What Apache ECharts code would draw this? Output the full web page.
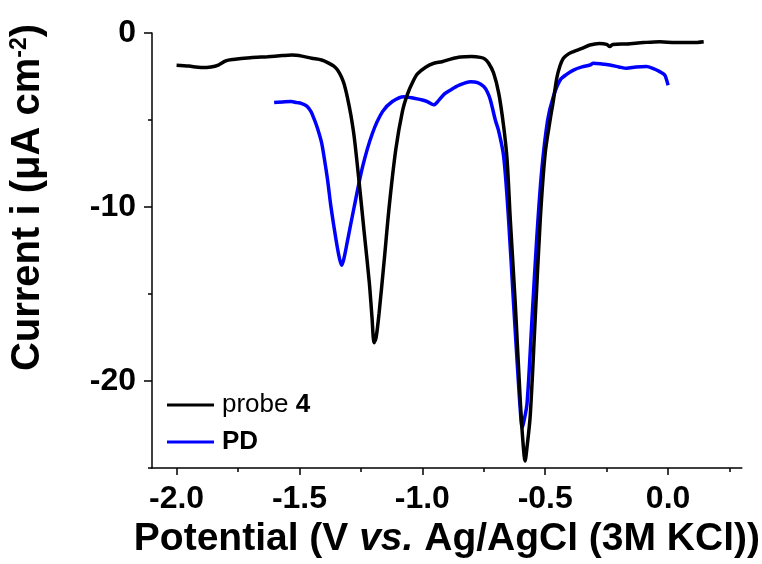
<!DOCTYPE html>
<html>
<head>
<meta charset="utf-8">
<script src="https://cdn.jsdelivr.net/npm/echarts@6/dist/echarts.min.js"></script>
<style>html,body{margin:0;padding:0;background:#fff;}#c{width:762px;height:564px;}</style>
</head>
<body>
<div id="c"></div>
<script>
// ---- data ----
const probe4 = [
  [-2.0, -1.85], [-1.95, -1.9], [-1.90, -1.98], [-1.86, -1.95], [-1.83, -1.84], [-1.80, -1.6],
  [-1.77, -1.52], [-1.70, -1.42], [-1.63, -1.36], [-1.57, -1.30], [-1.53, -1.27], [-1.49, -1.33],
  [-1.45, -1.45], [-1.41, -1.55], [-1.385, -1.70], [-1.36, -1.9], [-1.345, -2.12], [-1.33, -2.5],
  [-1.318, -2.95], [-1.305, -3.7], [-1.291, -4.7], [-1.277, -6.0], [-1.257, -8.6], [-1.237, -11.4],
  [-1.216, -14.3], [-1.205, -16.3], [-1.196, -17.8], [-1.188, -17.5], [-1.176, -16.1], [-1.156, -13.2],
  [-1.135, -10.0], [-1.108, -6.7], [-1.081, -4.5], [-1.06, -3.5], [-1.04, -2.85], [-1.02, -2.35],
  [-0.985, -1.95], [-0.953, -1.74], [-0.92, -1.65], [-0.885, -1.5], [-0.845, -1.38], [-0.80, -1.35],
  [-0.764, -1.40], [-0.745, -1.5], [-0.730, -1.74], [-0.710, -2.3], [-0.689, -3.47], [-0.669, -5.38],
  [-0.655, -7.3], [-0.642, -10.74], [-0.622, -15.5], [-0.601, -21.25], [-0.59, -23.6], [-0.582, -24.6],
  [-0.574, -23.8], [-0.561, -22.0], [-0.541, -16.5], [-0.520, -10.7], [-0.500, -6.9], [-0.480, -5.0],
  [-0.467, -3.9], [-0.453, -2.6], [-0.44, -1.9], [-0.426, -1.45], [-0.405, -1.2], [-0.385, -1.07],
  [-0.35, -0.88], [-0.318, -0.69], [-0.28, -0.6], [-0.25, -0.65], [-0.237, -0.78], [-0.225, -0.66],
  [-0.169, -0.63], [-0.10, -0.55], [-0.034, -0.5], [0.03, -0.55], [0.101, -0.55], [0.145, -0.5]
];
const pd = [
  [-1.603, -4.0], [-1.56, -3.95], [-1.534, -3.94], [-1.51, -4.0], [-1.493, -4.04], [-1.47, -4.2],
  [-1.453, -4.52], [-1.44, -4.95], [-1.426, -5.5], [-1.41, -6.3], [-1.399, -7.2], [-1.385, -8.5],
  [-1.372, -9.97], [-1.351, -11.9], [-1.338, -12.9], [-1.328, -13.35], [-1.318, -12.9], [-1.304, -11.9],
  [-1.277, -9.97], [-1.243, -7.68], [-1.203, -5.76], [-1.162, -4.52], [-1.122, -3.94], [-1.075, -3.66],
  [-1.034, -3.75], [-1.0, -3.85], [-0.980, -3.94], [-0.953, -4.13], [-0.935, -3.9], [-0.91, -3.5],
  [-0.885, -3.27], [-0.85, -3.0], [-0.804, -2.80], [-0.775, -2.85], [-0.750, -3.08], [-0.735, -3.4],
  [-0.723, -3.85], [-0.703, -5.0], [-0.69, -5.6], [-0.669, -7.1], [-0.649, -10.74], [-0.629, -15.5],
  [-0.608, -20.3], [-0.598, -22.3], [-0.594, -22.7], [-0.588, -22.4], [-0.574, -21.3], [-0.554, -16.5],
  [-0.534, -11.7], [-0.514, -7.87], [-0.49, -5.0], [-0.467, -3.66], [-0.439, -2.7], [-0.41, -2.35],
  [-0.385, -2.13], [-0.35, -1.95], [-0.318, -1.84], [-0.304, -1.74], [-0.27, -1.78], [-0.237, -1.84],
  [-0.2, -1.95], [-0.169, -2.03], [-0.13, -1.95], [-0.088, -1.93], [-0.06, -2.05], [-0.034, -2.22],
  [-0.014, -2.41], [-0.006, -2.7], [0.0, -3.0]
];
const xMajorTicks = [-2.0, -1.5, -1.0, -0.5, 0.0];
const xMinorTicks = [-1.75, -1.25, -0.75, -0.25, 0.25];
const yMajorTicks = [-20, -10, 0];
const yMinorTicks = [-25, -15, -5];
const seriesNames = ['probe 4', 'PD'];

// ---- chart ----
const FONT = 'Liberation Sans, Arial, sans-serif';
const chart = echarts.init(document.getElementById('c'), null, {renderer: 'canvas'});
const axisLine = {show: true, onZero: false, lineStyle: {color: '#000', width: 1.5}};
const tickStyle = {color: '#000', width: 1.5};
const labelStyle = {color: '#000', fontSize: 32, fontWeight: 'bold', fontFamily: FONT};

chart.setOption({
  animation: false,
  backgroundColor: '#fff',
  grid: {left: 150, right: 20, top: 33, bottom: 96, containLabel: false},
  xAxis: [{
    type: 'value', min: -2.1, max: 0.3, position: 'bottom',
    axisLine: axisLine,
    axisTick: {show: true, inside: false, length: 7, lineStyle: tickStyle, customValues: xMajorTicks},
    axisLabel: Object.assign({margin: 15, customValues: xMajorTicks, formatter: v => v.toFixed(1)}, labelStyle),
    splitLine: {show: false},
    name: '{a|Potential (V }{i|vs.}{a| Ag/AgCl (3M KCl))}',
    nameLocation: 'middle', nameGap: 52,
    nameTextStyle: {rich: {
      a: {fontSize: 39, fontWeight: 'bold', fontFamily: FONT, color: '#000'},
      i: {fontSize: 39, fontWeight: 'bold', fontStyle: 'italic', fontFamily: FONT, color: '#000'}
    }}
  }, {
    type: 'value', min: -2.1, max: 0.3, position: 'bottom',
    axisLine: {show: false, onZero: false},
    axisTick: {show: true, length: 4, lineStyle: tickStyle, customValues: xMinorTicks},
    axisLabel: {show: false}, splitLine: {show: false}
  }],
  yAxis: [{
    type: 'value', min: -25, max: 0, position: 'left',
    axisLine: axisLine,
    axisTick: {show: true, length: 8, lineStyle: tickStyle, customValues: yMajorTicks},
    axisLabel: Object.assign({margin: 16, customValues: yMajorTicks, formatter: v => String(v)}, labelStyle),
    splitLine: {show: false},
    name: '{a|Current i (μA cm}{s|-2}{a|)}',
    nameLocation: 'middle', nameGap: 104, nameRotate: 90,
    nameTextStyle: {
      padding: [0, 0, 0, 106],
      rich: {
        a: {fontSize: 40, fontWeight: 'bold', fontFamily: FONT, color: '#000'},
        s: {fontSize: 23, fontWeight: 'bold', fontFamily: FONT, color: '#000', verticalAlign: 'top'}
      }
    }
  }, {
    type: 'value', min: -25, max: 0, position: 'left',
    axisLine: {show: false, onZero: false},
    axisTick: {show: true, length: 4, lineStyle: tickStyle, customValues: yMinorTicks},
    axisLabel: {show: false}, splitLine: {show: false}
  }],
  legend: {
    orient: 'vertical', left: 162, top: 387,
    icon: 'rect', itemWidth: 47, itemHeight: 3, itemGap: 11,
    data: seriesNames,
    formatter: name => name === 'probe 4' ? '{n|probe }{b|4}' : '{b|PD}',
    textStyle: {
      fontSize: 26, fontFamily: FONT, color: '#000', lineHeight: 26, padding: [0, 0, 0, 3],
      rich: {
        n: {fontSize: 26, fontFamily: FONT, color: '#000'},
        b: {fontSize: 26, fontFamily: FONT, fontWeight: 'bold', color: '#000'}
      }
    }
  },
  series: [{
    name: seriesNames[0], type: 'line', data: probe4, symbol: 'none', smooth: 0.3,
    lineStyle: {color: '#000', width: 3.5}, itemStyle: {color: '#000'}, z: 3
  }, {
    name: seriesNames[1], type: 'line', data: pd, symbol: 'none', smooth: 0.3,
    lineStyle: {color: '#0000ff', width: 3.5}, itemStyle: {color: '#0000ff'}, z: 2
  }]
});
</script>
</body>
</html>
